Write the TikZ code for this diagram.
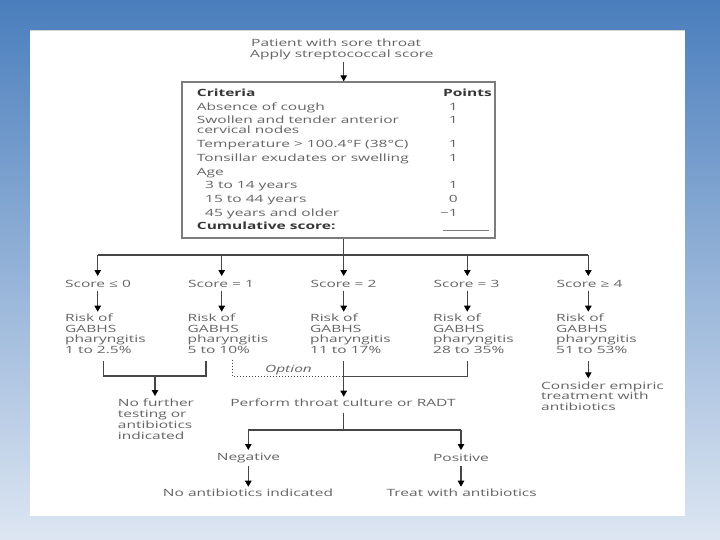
\documentclass[tikz,border=0pt]{standalone}
\usepackage{fontspec}
\setmainfont[FakeStretch=1.55]{Open Sans}
\usetikzlibrary{arrows.meta}
\definecolor{bgtop}{RGB}{74,126,189}
\definecolor{bgbot}{RGB}{221,230,242}
\definecolor{txtgray}{RGB}{100,100,100}
\definecolor{boldgray}{RGB}{55,55,55}
\definecolor{linegray}{RGB}{70,70,70}
\definecolor{boxgray}{RGB}{125,125,125}
\begin{document}
\begin{tikzpicture}[x=1pt,y=-1pt,
  txt/.style={inner sep=0pt, text=txtgray, font=\fontsize{10}{10.7}\selectfont},
  bold/.style={inner sep=0pt, text=boldgray, font=\fontsize{10}{10.7}\selectfont\bfseries},
  multi/.style={txt, align=left},
  conn/.style={draw=linegray, line width=1.1pt},
  arr/.style={conn, -{Triangle[width=6.5pt,length=6pt,color=black]}},
  dots/.style={draw=linegray, line width=1pt, dotted},
]
\useasboundingbox (0,0) rectangle (720,540);
\shade[top color=bgtop, bottom color=bgbot] (0,0) rectangle (720,540);
\fill[white] (30,30) rectangle (685,516);
\draw[gray!35, line width=1pt] (30,30.5) -- (685,30.5);

% title
\node[txt, anchor=base west] (p1) at (251,46.5) {Patient with sore throat};
\node[txt, anchor=base west] (p2) at (250,57.5) {Apply streptococcal score};

% criteria box
\node[draw=boxgray, line width=1.3pt, minimum width=313pt, minimum height=156pt, inner sep=0pt] (box) at (338.5,160) {};
\node[bold, anchor=base west] (cr) at (196.7,97) {Criteria};
\node[bold, anchor=base east] (pt) at (492,97) {Points};
\node[txt, anchor=base west] (r1) at (196.7,110.5) {Absence of cough};
\node[txt, anchor=base west] (r2) at (196.7,123.5) {Swollen and tender anterior};
\node[txt, anchor=base west] (r2b) at (196.7,134) {cervical nodes};
\node[txt, anchor=base west] (r3) at (196.7,148) {Temperature > 100.4°F (38°C)};
\node[txt, anchor=base west] (r4) at (196.7,161.5) {Tonsillar exudates or swelling};
\node[txt, anchor=base west] (r5) at (196.7,175.5) {Age};
\node[txt, anchor=base west] (r6) at (205,189) {3 to 14 years};
\node[txt, anchor=base west] (r7) at (205,202.5) {15 to 44 years};
\node[txt, anchor=base west] (r8) at (205,216) {45 years and older};
\node[bold, anchor=base west] (cum) at (196.7,229.5) {Cumulative score:};
\node[txt, anchor=base east] (v1) at (458,110.5) {1};
\node[txt, anchor=base east] (v2) at (458,123.5) {1};
\node[txt, anchor=base east] (v3) at (458,148) {1};
\node[txt, anchor=base east] (v4) at (458,161.5) {1};
\node[txt, anchor=base east] (v6) at (458,189) {1};
\node[txt, anchor=base east] (v7) at (458,202.5) {0};
\node[txt, anchor=base east] (v8) at (458,216) {−1};
\coordinate (blank1) at (443,230);
\coordinate (blank2) at (489,230);
\draw[draw=boxgray, line width=0.8pt] (blank1) -- (blank2);

% arrow into box and hub
\coordinate (a0) at (343.7,62);
\draw[arr] (a0) -- (a0 |- box.north);
\coordinate (hub) at (343.7,255);
\draw[conn] (hub |- box.south) -- (hub);
\coordinate (h1) at (97.7,255);
\coordinate (h2) at (221.7,255);
\coordinate (h3) at (343.7,255);
\coordinate (h4) at (467.3,255);
\coordinate (h5) at (588.3,255);
\draw[conn] (h1) -- (h5);

% score labels
\node[txt, anchor=base west] (s1) at (65,287) {Score ≤ 0};
\node[txt, anchor=base west] (s2) at (188,287) {Score = 1};
\node[txt, anchor=base west] (s3) at (310.5,287) {Score = 2};
\node[txt, anchor=base west] (s4) at (433.5,287) {Score = 3};
\node[txt, anchor=base west] (s5) at (556.5,287) {Score ≥ 4};

\coordinate (t1) at (97.7,276);
\coordinate (t2) at (221.7,276);
\coordinate (t3) at (343.7,276);
\coordinate (t4) at (467.3,276);
\coordinate (t5) at (588.3,276);
\foreach \i in {1,...,5} \draw[arr] (h\i) -- (t\i);

% risk texts (base = last line)
\node[multi, anchor=base west] (k1) at (65,353.5) {Risk of\\GABHS\\pharyngitis\\1 to 2.5\%};
\node[multi, anchor=base west] (k2) at (187.5,353.5) {Risk of\\GABHS\\pharyngitis\\5 to 10\%};
\node[multi, anchor=base west] (k3) at (310,353.5) {Risk of\\GABHS\\pharyngitis\\11 to 17\%};
\node[multi, anchor=base west] (k4) at (433,353.5) {Risk of\\GABHS\\pharyngitis\\28 to 35\%};
\node[multi, anchor=base west] (k5) at (556,353.5) {Risk of\\GABHS\\pharyngitis\\51 to 53\%};

\coordinate (u1) at (97.7,290.7);
\coordinate (u2) at (221.7,290.7);
\coordinate (u3) at (343.7,290.7);
\coordinate (u4) at (467.3,290.7);
\coordinate (u5) at (588.3,290.7);
\coordinate (w1) at (97.7,311.7);
\coordinate (w2) at (221.7,311.7);
\coordinate (w3) at (343.7,311.7);
\coordinate (w4) at (467.3,311.7);
\coordinate (w5) at (588.3,311.7);
\foreach \i in {1,...,5} \draw[arr] (u\i) -- (w\i);

% bracket of scores 0 and 1
\coordinate (b1) at (103.3,360.7);
\coordinate (b2) at (206,360.7);
\coordinate (bm) at (155,376);
\draw[conn] (b1) -- (b1 |- bm) -- (b2 |- bm) -- (b2);
\node[multi, anchor=base west, font=\fontsize{10}{11}\selectfont] (nf) at (117.7,439.5) {No further\\testing or\\antibiotics\\indicated};
\coordinate (bt) at (155,396);
\draw[arr] (bm) -- (bt);

% option dotted
\coordinate (o1) at (232.7,359.5);
\coordinate (o2) at (343.7,376);
\draw[dots] (o1) -- (o1 |- o2) -- (o2);
\node[txt, anchor=base, font=\fontsize{10}{10.7}\selectfont\itshape] (opt) at (288.5,372.7) {Option};

% scores 2 and 3 to culture
\coordinate (c3) at (343.7,360.5);
\coordinate (c4) at (467.3,360.5);
\coordinate (cj) at (343.7,376.5);
\coordinate (ct) at (343.7,396.7);
\draw[conn] (c4) -- (c4 |- cj) -- (cj);
\draw[arr] (c3) -- (ct);
\node[txt, anchor=base] (perf) at (343,406.7) {Perform throat culture or RADT};

% culture split
\coordinate (d0) at (343.7,412.7);
\coordinate (dj) at (343.7,430);
\coordinate (dl) at (248.3,430);
\coordinate (dr) at (461,430);
\coordinate (dlt) at (248.3,450);
\coordinate (drt) at (461,450);
\draw[conn] (d0) -- (dj);
\draw[conn] (dl) -- (dr);
\draw[arr] (dl) -- (dlt);
\draw[arr] (dr) -- (drt);
\node[txt, anchor=base] (neg) at (248.5,460.7) {Negative};
\node[txt, anchor=base] (pos) at (461,461) {Positive};
\coordinate (e1) at (248.3,466);
\coordinate (e1t) at (248.3,486.7);
\coordinate (e2) at (461,466);
\coordinate (e2t) at (461,486.7);
\draw[arr] (e1) -- (e1t);
\draw[arr] (e2) -- (e2t);
\node[txt, anchor=base] (noab) at (248,496.7) {No antibiotics indicated};
\node[txt, anchor=base] (treat) at (461.7,496.7) {Treat with antibiotics};

% score >= 4 branch
\coordinate (f0) at (588.3,360.7);
\coordinate (ft) at (588.3,378.3);
\draw[arr] (f0) -- (ft);
\node[multi, anchor=base west, font=\fontsize{10}{10.5}\selectfont] (emp) at (541,410) {Consider empiric\\treatment with\\antibiotics};
\end{tikzpicture}
\end{document}
